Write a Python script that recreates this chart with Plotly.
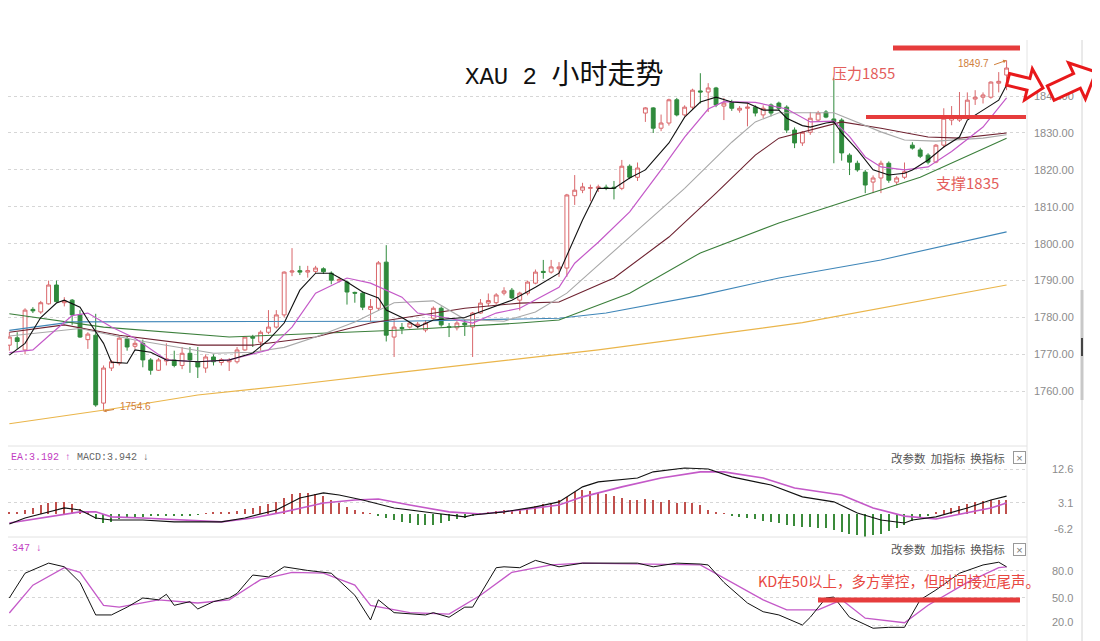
import math
import plotly.graph_objects as go

W, H = 1100, 641
PAGE_OFFSET = 8  # default body margin of the html page

# ---------------- data ----------------
opens = [1772.5,1774.5,1771.2,1782.2,1781.5,1783.7,1788.8,1784.0,1784.7,1780.7,
         1774.0,1775.2,1756.8,1766.3,1767.6,1774.2,1772.2,1773.0,1768.5,1765.7,
         1768.2,1768.5,1767.0,1770.3,1768.0,1766.3,1769.3,1767.8,1768.0,1768.0,
         1771.2,1774.8,1773.3,1776.0,1777.4,1780.7,1792.3,1792.7,1792.3,1792.5,
         1793.2,1792.0,1789.9,1789.6,1786.8,1786.6,1782.2,1782.5,1795.0,1774.7,
         1777.3,1777.4,1777.8,1776.6,1779.8,1782.5,1777.5,1777.2,1778.5,1777.4,
         1781.2,1783.9,1784.0,1786.6,1787.4,1784.7,1786.6,1789.3,1792.5,1792.3,
         1793.2,1793.4,1813.0,1814.5,1815.0,1815.0,1815.3,1815.3,1815.0,1821.0,
         1818.0,1835.4,1836.8,1831.3,1832.7,1839.0,1834.9,1837.0,1841.4,1841.1,
         1842.2,1837.3,1838.4,1836.2,1836.7,1837.0,1834.9,1837.6,1838.1,1837.0,
         1830.8,1827.3,1830.2,1833.5,1835.7,1833.8,1833.5,1824.0,1821.8,1819.4,
         1816.7,1817.8,1821.8,1816.7,1818.0,1826.7,1825.4,1824.0,1822.1,1826.7,
         1833.5,1833.5,1834.3,1839.2,1839.7,1839.7,1843.5,1845.7]
highs = [1776.0,1776.0,1782.5,1782.8,1784.5,1790.0,1790.0,1785.5,1785.0,1782.0,
         1776.0,1781.0,1767.0,1768.5,1775.0,1775.0,1773.8,1774.0,1769.0,1769.0,
         1773.0,1771.0,1772.0,1772.0,1772.0,1770.0,1770.0,1769.0,1769.0,1772.0,
         1775.0,1775.3,1776.5,1782.0,1782.0,1792.5,1798.8,1794.0,1794.0,1794.0,
         1793.6,1792.5,1791.0,1790.0,1787.0,1787.0,1785.0,1795.3,1799.6,1779.3,
         1778.5,1779.0,1778.8,1779.3,1783.0,1783.0,1778.5,1779.0,1779.5,1781.5,
         1785.0,1786.5,1786.6,1788.2,1788.0,1787.0,1790.0,1793.0,1795.6,1795.6,
         1795.0,1813.5,1818.6,1816.5,1816.0,1816.0,1816.0,1817.0,1822.7,1821.5,
         1822.0,1837.0,1837.0,1835.0,1839.3,1839.5,1837.5,1842.0,1846.2,1843.5,
         1842.5,1839.5,1839.0,1837.3,1838.0,1837.5,1837.5,1838.0,1838.5,1837.5,
         1831.5,1830.5,1835.7,1836.0,1836.2,1844.9,1834.0,1824.5,1822.5,1820.0,
         1818.5,1822.5,1822.3,1818.3,1822.0,1827.5,1826.0,1824.5,1827.0,1836.7,
         1837.3,1841.1,1841.0,1841.6,1841.0,1844.0,1846.5,1849.7]
lows = [1771.0,1771.5,1770.0,1781.2,1781.0,1783.5,1784.0,1783.0,1778.0,1774.5,
        1771.5,1755.8,1754.6,1765.5,1767.0,1771.0,1771.5,1766.5,1764.5,1765.5,
        1767.0,1766.5,1766.0,1765.0,1763.6,1765.0,1767.0,1767.0,1765.5,1767.5,
        1771.0,1772.0,1771.0,1775.5,1777.0,1780.0,1791.2,1791.5,1790.8,1792.0,
        1791.8,1789.0,1789.5,1783.5,1784.0,1782.0,1779.0,1782.0,1773.5,1769.3,
        1775.5,1777.0,1777.0,1776.0,1779.5,1777.5,1774.7,1776.5,1775.0,1769.3,
        1781.0,1783.0,1783.5,1786.0,1785.0,1781.9,1786.0,1789.0,1790.5,1791.9,
        1791.0,1791.0,1810.5,1813.7,1811.5,1814.0,1814.5,1812.0,1814.5,1817.5,
        1817.0,1833.0,1830.0,1830.5,1832.0,1834.5,1834.5,1836.5,1838.0,1835.7,
        1837.0,1833.5,1836.0,1835.5,1831.8,1834.5,1834.0,1834.5,1836.0,1830.0,
        1825.9,1826.5,1829.5,1833.0,1834.0,1821.8,1822.5,1818.6,1819.5,1813.7,
        1813.7,1813.7,1816.5,1815.9,1817.5,1825.5,1823.2,1821.5,1821.8,1826.0,
        1832.1,1833.0,1834.0,1837.6,1838.0,1839.3,1841.0,1841.6]
closes = [1774.7,1773.5,1782.0,1781.8,1784.0,1788.8,1784.3,1784.5,1780.7,1774.7,
          1775.5,1756.3,1766.3,1768.0,1774.4,1772.0,1773.0,1768.5,1765.7,1768.5,
          1768.8,1767.0,1770.3,1768.5,1766.6,1769.3,1768.0,1768.6,1768.5,1771.2,
          1774.7,1774.4,1776.0,1777.4,1780.7,1792.3,1792.6,1792.3,1792.7,1793.4,
          1792.4,1790.1,1790.3,1786.9,1786.6,1782.8,1783.0,1794.8,1775.2,1777.4,
          1777.0,1778.5,1778.2,1778.5,1782.5,1778.0,1777.3,1778.5,1778.0,1781.2,
          1783.9,1784.6,1786.1,1787.2,1785.3,1786.6,1789.6,1792.3,1792.2,1793.7,
          1793.7,1813.2,1814.5,1815.4,1815.2,1815.4,1815.1,1815.0,1821.0,1818.0,
          1820.5,1836.8,1831.3,1832.7,1839.0,1834.9,1837.0,1841.6,1841.1,1842.2,
          1837.6,1838.1,1836.7,1836.7,1837.0,1835.4,1836.7,1835.4,1836.7,1830.8,
          1827.3,1830.2,1834.0,1835.4,1834.3,1833.0,1824.6,1822.1,1820.0,1815.9,
          1817.8,1821.8,1817.2,1817.8,1819.5,1825.9,1823.7,1822.1,1826.7,1834.0,
          1834.3,1834.3,1838.9,1839.7,1840.3,1843.8,1844.0,1847.6]
bars = list(range(len(closes)))

# moving averages (bar index, value)
ma5_idx = [0,2,4,6,7,9,10,12,13,15,16,18,20,24,28,31,33,35,37,39,41,43,45,47,48,50,52,54,58,60,64,67,70,73,75,77,79,81,84,86,88,90,92,94,96,98,99,101,102,104,105,106,108,110,112,114,115,117,119,121,122,124,126,127]
ma5_val = [1769.8,1773,1780,1783.9,1784.7,1782.8,1779.3,1773,1767.9,1767.6,1771.2,1770.6,1768.5,1768,1768.5,1770.4,1773.9,1778.5,1787.4,1792,1792,1789.6,1786.9,1785.3,1782,1780,1777.4,1779.3,1780,1781.5,1784.7,1788.2,1792,1806.4,1815,1815,1817.8,1820,1827.3,1834.3,1838.4,1839.7,1838.4,1838.1,1836.2,1836.2,1834,1832,1831.6,1832.7,1833,1830,1825.4,1820,1818.6,1819.1,1820,1822.7,1826.2,1828.9,1833.5,1836.2,1838.9,1843]
ma10_idx = [0,3,5,8,10,13,16,20,24,28,33,36,39,43,46,50,52,56,59,62,65,70,72,75,79,83,86,89,91,95,99,102,105,107,109,111,114,117,120,124,127]
ma10_val = [1770.5,1771.2,1775,1780.5,1781.2,1777.4,1774.4,1768.5,1768,1768.5,1771.2,1777.4,1786.6,1790.7,1789.3,1785.5,1781.2,1779.8,1778.5,1781.2,1782.5,1788.2,1794.7,1800.4,1808.6,1820,1828.9,1836.5,1838.5,1838.3,1836.5,1833,1833.2,1829,1823.5,1820.8,1820,1820.8,1825,1831.6,1839.5]
ma20_idx = [0,9,16,26,31,35,39,44,49,54,58,63,67,71,79,86,92,95,98,105,111,114,118,124,127]
ma20_val = [1775,1777,1773.9,1770.3,1770.6,1771.9,1774.7,1778.8,1784,1784.5,1779.5,1779,1781.5,1786.6,1801.8,1815,1827.5,1833,1835.5,1835.5,1830.3,1828.1,1827.8,1828.6,1829.5]
ma30_idx = [0,7,14,24,31,39,46,50,58,65,70,77,84,90,95,98,106,111,117,121,127]
ma30_val = [1776,1778,1775.2,1772.5,1772.5,1774.7,1778.5,1779.8,1782.5,1783.9,1784.2,1790.7,1801.8,1813.7,1824,1828.6,1833,1831.3,1828.9,1828.6,1830]
ma60_idx = [0,12,28,50,65,70,79,88,98,107,116,127]
ma60_val = [1781,1777.4,1774.7,1776.6,1778.5,1779.3,1786.6,1797.5,1805.6,1811.8,1818,1828.6]
ma120_idx = [0,8,50,70,76,88,98,111,127]
ma120_val = [1776.5,1778.8,1779,1779.8,1781.2,1786,1790.7,1795.6,1803.2]
ma250_idx = [0,13,24,36,50,75,101,115,127]
ma250_val = [1751.2,1755.2,1759,1761.7,1765.2,1771.2,1778.6,1784,1788.8]

price_ticks = [1760, 1770, 1780, 1790, 1800, 1810, 1820, 1830, 1840]
price_tick_text = ["%.2f" % v for v in price_ticks]

# MACD panel
dif_idx = [0,2,7,9,11,13,17,21,27,30,34,37,40,42,45,49,54,58,59,63,67,70,73,75,80,82,86,89,92,97,101,105,108,111,114,115,118,122,125,127]
dif_val = [-2.8,-1.1,1.7,1.1,-1.1,-1.7,-1.7,-2.2,-2.2,-1.1,1.1,4.5,5.9,5.3,3.9,1.7,0.3,-0.8,-0.3,0.6,2,3.4,7.6,9,10.1,11.8,12.9,12.6,10.4,8.1,4.8,3.4,0.3,-1.7,-2.5,-1.7,-0.8,1.7,3.9,5]
dea_idx = [0,4,9,11,13,17,24,27,31,35,40,44,47,51,56,60,65,70,73,78,83,88,91,96,100,106,110,114,118,122,125,127]
dea_val = [-2.5,-1.1,0.6,0.6,-0.8,-1.1,-2,-2.2,-1.1,0.6,3.1,3.9,4.2,2.5,0.6,0,1.1,2.5,4.8,7.6,10.1,11.8,11.8,10.1,7.3,5.3,1.7,-0.6,-1.4,0.3,1.7,3.1]
macd_hist = [0.3,0.5,1.0,1.8,2.5,3.0,3.5,3.5,2.8,1.5,
             0.5,-1.5,-2.5,-2.2,-1.5,-1.0,-0.8,-0.7,-0.6,-0.6,
             -0.5,-0.5,-0.4,-0.3,-0.2,0.2,0.3,0.4,0.6,0.9,
             1.3,1.8,2.3,2.8,3.5,4.5,5.5,6.0,5.8,5.5,
             5.0,4.0,3.0,2.0,1.2,0.6,0.2,-0.4,-1.0,-1.6,
             -2.2,-2.6,-3.0,-3.2,-3.0,-2.6,-2.0,-1.5,-1.0,-0.5,
             0.2,0.5,0.8,1.0,1.2,1.5,1.8,2.2,2.8,3.2,
             3.8,4.8,6.2,6.8,6.5,6.0,5.5,5.0,4.5,4.0,
             3.8,4.2,4.0,3.5,3.8,3.2,3.5,3.0,2.5,1.2,
             0.6,0.2,-0.3,-0.8,-1.2,-1.5,-2.0,-2.3,-2.6,-3.0,
             -3.3,-3.5,-3.6,-3.8,-4.0,-4.5,-5.0,-5.5,-6.0,-6.3,
             -6.0,-5.5,-4.8,-4.0,-3.0,-2.0,-1.2,-0.5,0.3,1.0,
             1.6,2.2,2.8,3.3,3.6,3.8,3.9,3.9]
macd_ticks = [12.6, 3.1, -6.2]

# KD panel
k_idx = [0,2,5,7,9,11,13,15,17,19,20,21,23,24,26,28,29,31,33,35,38,41,44,46,47,49,53,54,56,58,59,62,63,65,67,70,73,80,82,85,88,89,91,94,96,98,101,102,104,105,107,110,112,114,116,118,121,124,126,127]
k_val = [50,77,88,84,67,31.5,31.5,40,50,48,54,42,46,38,46,50,55,75,73,84,80,77,53,26,48,34,31.5,34,29,40,40,83,84,83,91,84,88,88,84,88,87,86,67,44.5,35,31.5,20.5,29,50,51,29,17,18,18,48,58.7,77,86,89,84]
d_idx = [0,3,7,9,12,14,19,24,28,32,36,40,44,46,51,56,60,64,69,73,88,92,96,99,103,106,109,114,117,122,126,127]
d_val = [33.6,64,83,78,42,40,48,44.5,48,70,78,77,64,42,34,32.5,53,78,86,88,86,67,48,37,37,48,28,23,42,67,83,84]
kd_ticks = [80, 50, 20]

# ---------------- helpers ----------------
def px(x):
    return (x - PAGE_OFFSET) / W

def py(y):
    return 1 - (y - PAGE_OFFSET) / H

X_DOM = [px(8), px(1027)]
X_RANGE = [-0.17, 129.6]

fig = go.Figure()

fig.add_trace(go.Candlestick(
    x=bars, open=opens, high=highs, low=lows, close=closes,
    increasing=dict(line=dict(color="#d9676b", width=1), fillcolor="#ffffff"),
    decreasing=dict(line=dict(color="#2f8a3c", width=1), fillcolor="#2f8a3c"),
    whiskerwidth=0, hoverinfo="skip", xaxis="x", yaxis="y"))

ma_specs = [
    (ma250_idx, ma250_val, "#eab54a", 1.2),
    (ma120_idx, ma120_val, "#3f86b8", 1.1),
    (ma60_idx, ma60_val, "#3b7f3b", 1.1),
    (ma30_idx, ma30_val, "#6e2230", 1.1),
    (ma20_idx, ma20_val, "#a8a8a8", 1.1),
    (ma10_idx, ma10_val, "#c459c8", 1.2),
    (ma5_idx, ma5_val, "#111111", 1.1),
]
for xi, yv, col, wd in ma_specs:
    fig.add_trace(go.Scatter(x=xi, y=yv, mode="lines", line=dict(color=col, width=wd),
                             hoverinfo="skip", xaxis="x", yaxis="y"))

fig.add_trace(go.Bar(x=bars, y=macd_hist, width=0.16,
                     marker=dict(color=["#c0504d" if v >= 0 else "#3a8a3a" for v in macd_hist],
                                 line=dict(width=0)),
                     hoverinfo="skip", xaxis="x2", yaxis="y2"))
fig.add_trace(go.Scatter(x=dea_idx, y=dea_val, mode="lines", line=dict(color="#c459c8", width=1.6),
                         hoverinfo="skip", xaxis="x2", yaxis="y2"))
fig.add_trace(go.Scatter(x=dif_idx, y=dif_val, mode="lines", line=dict(color="#111111", width=1.1),
                         hoverinfo="skip", xaxis="x2", yaxis="y2"))

fig.add_trace(go.Scatter(x=d_idx, y=d_val, mode="lines", line=dict(color="#c459c8", width=1.3),
                         hoverinfo="skip", xaxis="x3", yaxis="y3"))
fig.add_trace(go.Scatter(x=k_idx, y=k_val, mode="lines", line=dict(color="#111111", width=1.0),
                         hoverinfo="skip", xaxis="x3", yaxis="y3"))

grid = dict(gridcolor="#d6d6d6", griddash="dot", gridwidth=1, zeroline=False, showline=False,
            ticks="", fixedrange=True)
xcommon = dict(domain=X_DOM, range=X_RANGE, visible=False, showgrid=False, fixedrange=True)

fig.update_layout(
    width=W, height=H, autosize=False,
    margin=dict(l=0, r=0, t=0, b=0),
    paper_bgcolor="white", plot_bgcolor="white",
    showlegend=False, hovermode=False, bargap=0,
    xaxis=dict(**xcommon, anchor="y", rangeslider=dict(visible=False)),
    xaxis2=dict(**xcommon, anchor="y2"),
    xaxis3=dict(**xcommon, anchor="y3"),
    yaxis=dict(**grid, domain=[py(440), py(40)], range=[1746.8, 1855.2], side="right",
               anchor="x", tickvals=price_ticks, ticktext=price_tick_text, ticklabelstandoff=6,
               tickfont=dict(family="Liberation Sans", size=11, color="#8c8c8c")),
    yaxis2=dict(**grid, domain=[py(537), py(446)], range=[-6.44, 19.04], anchor="x2",
                tickvals=macd_ticks, showticklabels=False),
    yaxis3=dict(**grid, domain=[py(632), py(538)], range=[12.9, 115.4], anchor="x3",
                tickvals=kd_ticks, showticklabels=False),
)

# ---------------- decorations ----------------
shapes = []
def hline(x0, x1, y, color, width):
    shapes.append(dict(type="line", xref="paper", yref="paper", x0=px(x0), x1=px(x1),
                       y0=py(y), y1=py(y), line=dict(color=color, width=width)))
def vline(x, y0, y1, color, width):
    shapes.append(dict(type="line", xref="paper", yref="paper", x0=px(x), x1=px(x),
                       y0=py(y0), y1=py(y1), line=dict(color=color, width=width)))

hline(8, 1027, 446, "#e2e2e2", 1)
hline(8, 1027, 537, "#e2e2e2", 1)
vline(1027, 40, 641, "#e4e4e4", 1)
vline(1082, 40, 641, "#d4d4d4", 1)
vline(1082, 290, 400, "#c8c8c8", 3)
vline(1082, 338, 356, "#444444", 2)

RED = "#e63c3c"
hline(893, 1020, 48, RED, 5)
hline(866, 1026, 117, RED, 4)
hline(818, 1020, 600, RED, 5)

def arrow_path(tip, ang, total, head_len, shaft_hw, head_hw):
    a = math.radians(ang)
    loc = [(-total, -shaft_hw), (-head_len, -shaft_hw), (-head_len, -head_hw), (0, 0),
           (-head_len, head_hw), (-head_len, shaft_hw), (-total, shaft_hw)]
    pts = []
    for lx, ly in loc:
        x = tip[0] + lx * math.cos(a) - ly * math.sin(a)
        y = tip[1] + lx * math.sin(a) + ly * math.cos(a)
        pts.append("%.5f,%.5f" % (px(x), py(y)))
    return "M " + " L ".join(pts) + " Z"

for tip, ang, tot, hl, shw, hhw in [((1043, 88), 14, 36, 15, 6, 16), ((1096, 72), -25, 50, 21, 8, 20)]:
    shapes.append(dict(type="path", xref="paper", yref="paper",
                       path=arrow_path(tip, ang, tot, hl, shw, hhw),
                       fillcolor="white", line=dict(color="#e8191b", width=3)))

fig.update_layout(shapes=shapes)

ann = []
CJK = "Noto Sans CJK SC"
ann.append(dict(xref="paper", yref="paper", x=px(463), y=py(76), xanchor="left", yanchor="middle",
                text="XAU 2 <span style='font-size:28px'>小时走势</span>", showarrow=False,
                font=dict(family="Liberation Mono, " + CJK, size=24, color="#111111")))
ann.append(dict(xref="paper", yref="paper", x=px(830), y=py(73), xanchor="left", yanchor="middle",
                text="压力1855", showarrow=False, font=dict(family=CJK, size=15, color="#e35d5b")))
ann.append(dict(xref="paper", yref="paper", x=px(934), y=py(183), xanchor="left", yanchor="middle",
                text="支撑1835", showarrow=False, font=dict(family=CJK, size=15, color="#e35d5b")))
ann.append(dict(xref="paper", yref="paper", x=px(756), y=py(580), xanchor="left", yanchor="middle",
                text="KD在50以上，多方掌控，但时间接近尾声。", showarrow=False,
                font=dict(family=CJK, size=14.5, color="#e8473f")))

ORANGE = "#d0803c"
ann.append(dict(xref="x", yref="y", x=len(closes) - 1, y=highs[-1], xanchor="right", yanchor="middle",
                xshift=-16, yshift=-3, text="%.1f" % highs[-1], showarrow=False,
                font=dict(family="Liberation Sans", size=10, color=ORANGE)))
ann.append(dict(xref="x", yref="y", x=len(closes) - 1, y=highs[-1], ax=-14, ay=5, text="",
                showarrow=True, arrowhead=2, arrowsize=0.7, arrowwidth=1, arrowcolor=ORANGE))
lo_i = lows.index(min(lows))
ann.append(dict(xref="x", yref="y", x=lo_i, y=lows[lo_i], xanchor="left", yanchor="middle",
                xshift=14, yshift=5, text="%.1f" % lows[lo_i], showarrow=False,
                font=dict(family="Liberation Sans", size=10, color=ORANGE)))
ann.append(dict(xref="x", yref="y", x=lo_i, y=lows[lo_i], ax=12, ay=-2, text="",
                showarrow=True, arrowhead=2, arrowsize=0.6, arrowwidth=1, arrowcolor=ORANGE))

MAG = "#c23cc2"
ann.append(dict(xref="paper", yref="paper", x=px(9), y=py(458), xanchor="left", yanchor="middle",
                text="<span style='color:%s'>EA:3.192 ↑</span> MACD:3.942 ↓" % MAG, showarrow=False,
                font=dict(family="Liberation Mono", size=10, color="#666666")))
ann.append(dict(xref="paper", yref="paper", x=px(10), y=py(548), xanchor="left", yanchor="middle",
                text="347 ↓", showarrow=False, font=dict(family="Liberation Mono", size=10, color=MAG)))

for yc in (458, 549):
    ann.append(dict(xref="paper", yref="paper", x=px(1007), y=py(yc), xanchor="right", yanchor="middle",
                    text="改参数  加指标  换指标", showarrow=False,
                    font=dict(family=CJK, size=11.5, color="#555555")))
    ann.append(dict(xref="paper", yref="paper", x=px(1019), y=py(yc), xanchor="center", yanchor="middle",
                    text="×", showarrow=False, width=11, height=11, borderwidth=1, borderpad=0,
                    bordercolor="#999999", font=dict(family="Liberation Sans", size=11, color="#777777")))

LBL = dict(family="Liberation Sans", size=11, color="#8c8c8c")
for v, sh in zip(macd_ticks, (0, 0, 7)):
    ann.append(dict(xref="paper", yref="y2", x=px(1075), y=v, xanchor="right", yanchor="middle",
                    yshift=sh, text=("%.1f" % v), showarrow=False, font=LBL))
for v, sh in zip(kd_ticks, (-1, 0, 3)):
    ann.append(dict(xref="paper", yref="y3", x=px(1075), y=v, xanchor="right", yanchor="middle",
                    yshift=sh, text=("%.1f" % v), showarrow=False, font=LBL))

fig.update_layout(annotations=ann)

fig.write_html("out.html")
